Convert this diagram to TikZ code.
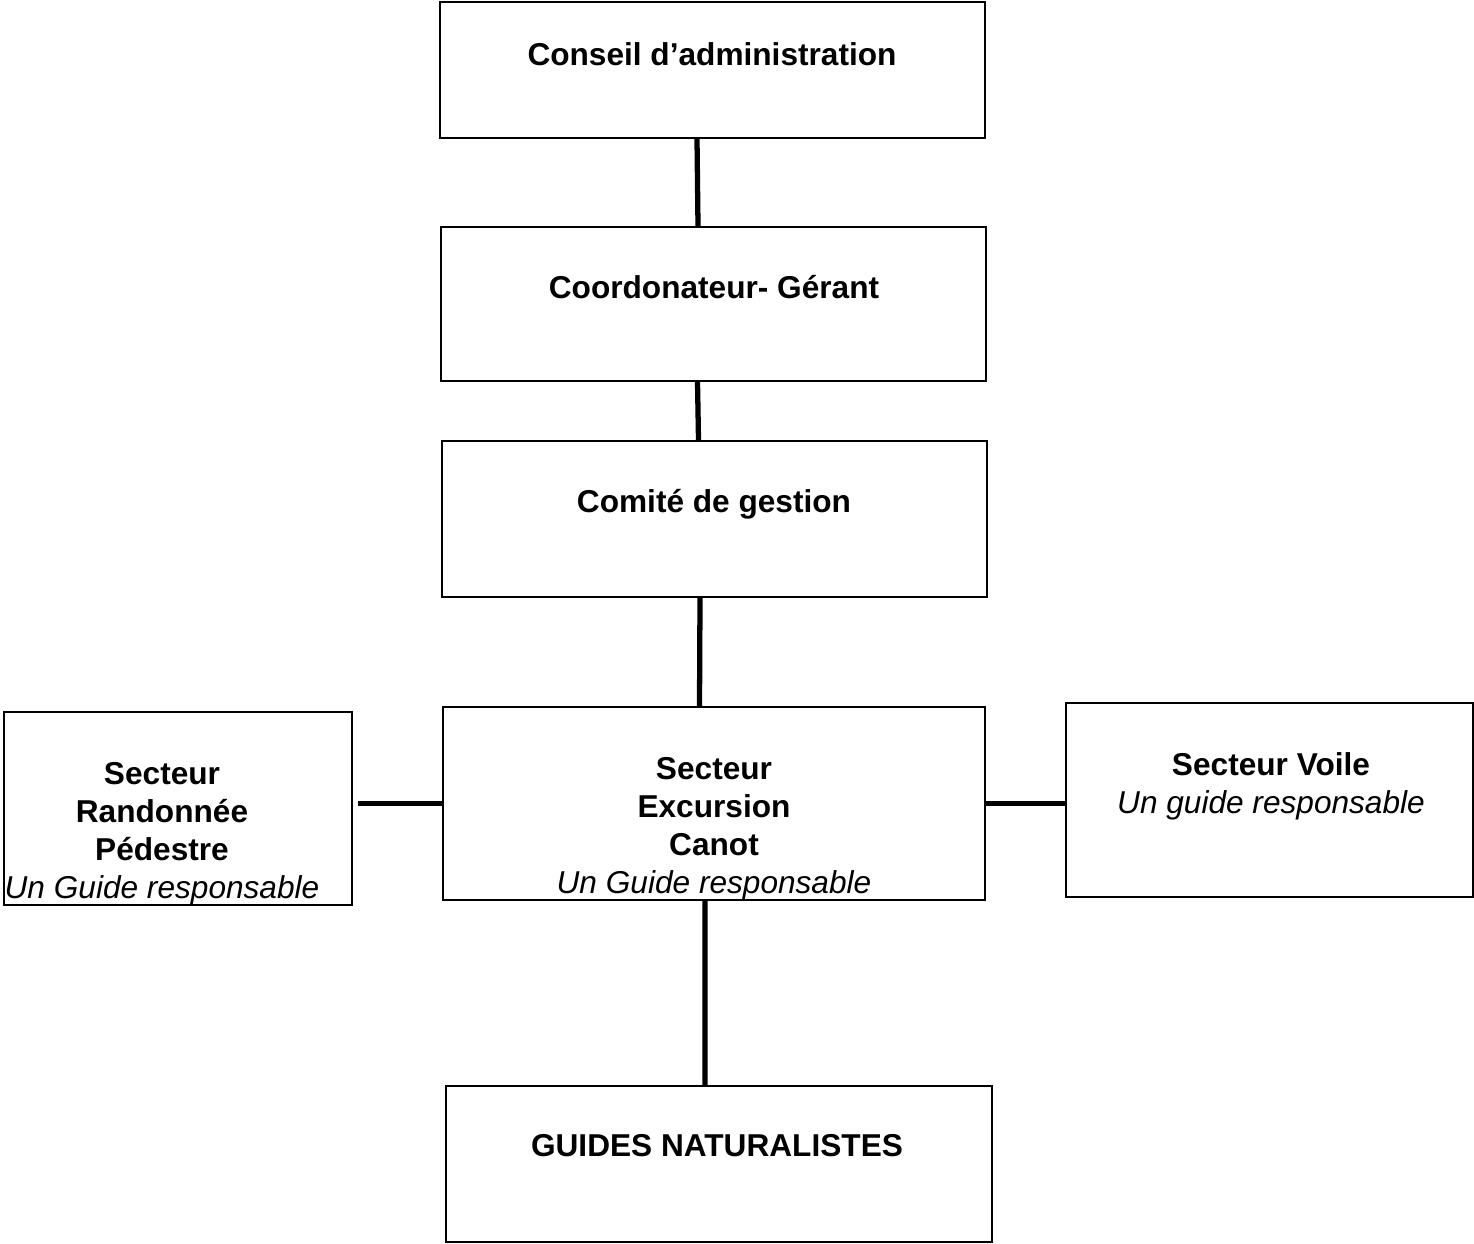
\documentclass[tikz,border=0pt]{standalone}
\usepackage{fontspec}
\setmainfont{Liberation Sans}
\usetikzlibrary{shapes,arrows,positioning,calc}

\begin{document}
\begin{tikzpicture}[x=0.02cm, y=-0.02cm,
   unit/.style={draw, line width=1.1pt, rectangle, inner sep=0pt},
   link/.style={draw, line width=3pt},
   title/.style={font=\fontsize{18}{21.6}\selectfont\bfseries, inner sep=0pt},
   every text node part/.style={align=center}]

    \useasboundingbox (0,0) rectangle (1474,1244);

    % Place boxes
    \node [unit, minimum width=10.9cm, minimum height=2.72cm] (conseil) at (712.5,70) {};
    \node [unit, minimum width=10.9cm, minimum height=3.08cm] (gerant) at (713.5,304) {};
    \node [unit, minimum width=10.9cm, minimum height=3.12cm] (comite) at (714.5,519) {};
    \node [unit, minimum width=10.84cm, minimum height=3.86cm] (excursion) at (714,803.5) {};
    \node [unit, minimum width=6.96cm, minimum height=3.86cm] (randonnee) at (178,808.5) {};
    \node [unit, minimum width=8.14cm, minimum height=3.88cm] (voile) at (1269.5,800) {};
    \node [unit, minimum width=10.92cm, minimum height=3.12cm] (guides) at (719,1164) {};

    % Texts
    \node [title, anchor=base] (conseiltxt) at (712,65) {Conseil d’administration};
    \node [title, anchor=base] (geranttxt) at (714,298) {Coordonateur- Gérant};
    \node [title, anchor=base] (comitetxt) at (714,512) {Comité de gestion};
    \node [title, anchor=north] (excursiontxt) at (714,757) {Secteur\\ Excursion\\ Canot\\ {\mdseries\itshape Un Guide responsable}};
    \node [title, anchor=north] (randonneetxt) at (162,762) {Secteur\\ Randonnée\\ Pédestre\\ {\mdseries\itshape Un Guide responsable}};
    \node [title, anchor=north] (voiletxt) at (1271,752) {Secteur Voile\\ {\mdseries\itshape Un guide responsable}};
    \node [title, anchor=base] (guidestxt) at (717,1156) {GUIDES NATURALISTES};

    % Draw edges
    \draw [link] ([xshift=-0.31cm]conseil.south) -- ([xshift=-0.31cm]gerant.north);
    \draw [link] ([xshift=-0.32cm]gerant.south) -- ([xshift=-0.32cm]comite.north);
    \draw [link] ([xshift=-0.29cm]comite.south) -- ([xshift=-0.29cm]excursion.north);
    \draw [link] ([xshift=-0.18cm]excursion.south) -- ([xshift=-0.28cm]guides.north);
    \draw [link] (excursion.west) -- ([xshift=0.1cm]excursion.west -| randonnee.east);
    \draw [link] (excursion.east) -- (excursion.east -| voile.west);
\end{tikzpicture}
\end{document}
